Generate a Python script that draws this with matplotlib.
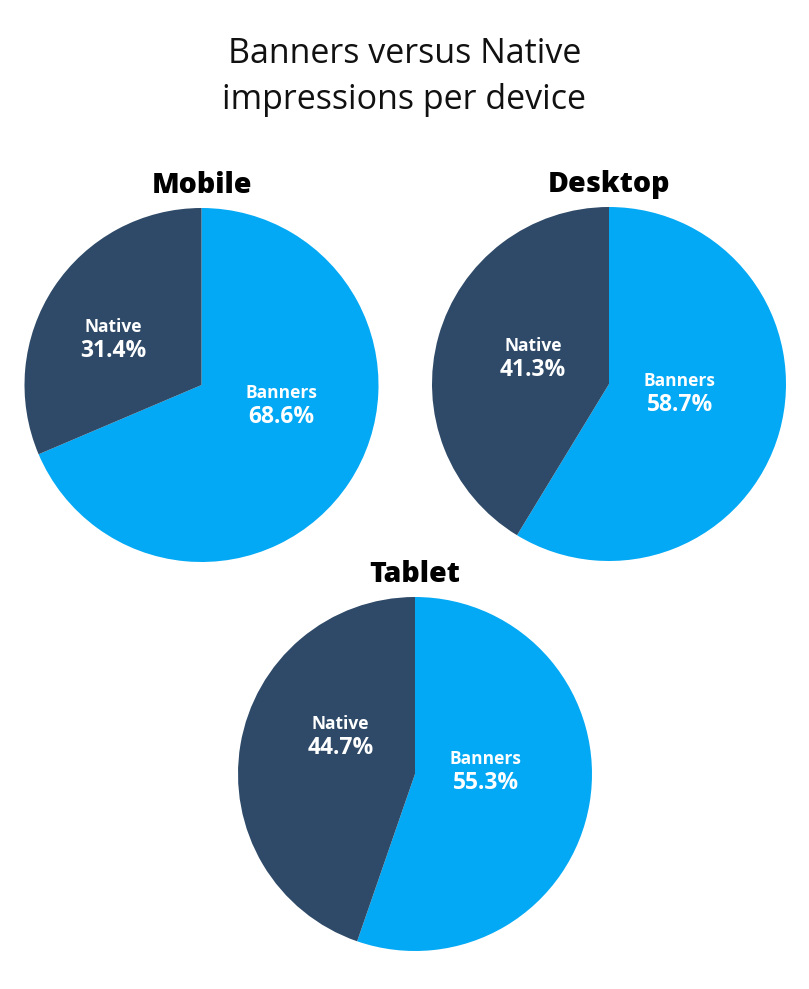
import matplotlib
matplotlib.use("Agg")
import matplotlib.pyplot as plt

plt.rcParams['font.family'] = ['Open Sans', 'DejaVu Sans']

title = "Banners versus Native\nimpressions per device"
devices = ["Mobile", "Desktop", "Tablet"]
categories = ["Banners", "Native"]
banners = [68.6, 58.7, 55.3]
native = [31.4, 41.3, 44.7]
colors = ["#03A9F4", "#2E4A68"]

# layout: pie center (px) and radius (px), label offsets in data units
W, H = 809, 989
centers = [(201.5, 385), (609, 384), (415, 774)]
radius = 177
label_pos = [
    {"Banners": (0.45, -0.11), "Native": (-0.50, 0.26)},
    {"Banners": (0.40, -0.05), "Native": (-0.43, 0.15)},
    {"Banners": (0.40, 0.02), "Native": (-0.42, 0.215)},
]

fig = plt.figure(figsize=(W / 100, H / 100), dpi=100)
fig.text(0.5, 1 - 77 / H, title, ha="center", va="center", fontsize=24.5,
         color="#111111", linespacing=1.45)

for i, dev in enumerate(devices):
    cx, cy = centers[i]
    ax = fig.add_axes([(cx - radius) / W, (H - cy - radius) / H,
                       2 * radius / W, 2 * radius / H])
    vals = [banners[i], native[i]]
    ax.pie(vals, colors=colors, startangle=90, counterclock=False, radius=1,
           wedgeprops=dict(linewidth=0))
    ax.set_xlim(-1, 1)
    ax.set_ylim(-1, 1)
    ax.set_aspect("equal")
    ax.axis("off")
    for cat, v in zip(categories, vals):
        x, y = label_pos[i][cat]
        ax.text(x, y + 0.065, cat, ha="center", va="center", color="white",
                fontsize=12.5, fontweight="bold")
        ax.text(x, y - 0.07, f"{v:.1f}%", ha="center", va="center",
                color="white", fontsize=16.5, fontweight="bold")
    ax.text(0, 1.125, dev, ha="center", va="center", fontsize=20.5,
            fontweight="heavy", color="#000000")

fig.savefig("out.png", dpi=100, facecolor="white")
